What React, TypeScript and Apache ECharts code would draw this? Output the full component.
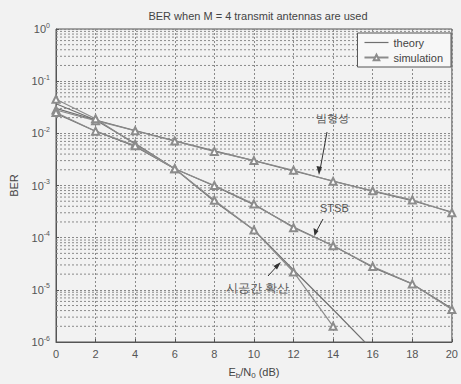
import React, { useEffect, useRef } from "react";
import * as echarts from "echarts";

const snr = [0, 2, 4, 6, 8, 10, 12, 14, 16, 18, 20];

const bfTheory = [0.03, 0.018, 0.0113, 0.0072, 0.0046, 0.003, 0.0019, 0.00122, 0.00078, 0.00051, 0.00031];
const bfSim = [0.028, 0.0175, 0.0112, 0.0071, 0.0045, 0.003, 0.00196, 0.0012, 0.00079, 0.00053, 0.0003];

const stbcTheory = [0.037, 0.018, 0.0064, 0.0021, 0.00098, 0.00043, 0.00016, 0.00007, 0.000027, 0.000013, 0.0000044];
const stbcSim = [0.045, 0.019, 0.0062, 0.0021, 0.001, 0.00044, 0.000155, 0.00007, 0.000028, 0.000013, 0.0000042];

const stsTheory = [0.024, 0.011, 0.0056, 0.0021, 0.0005, 0.00014, 0.000024, 0.0000042, 0.0000007];
const stsSim = [0.025, 0.011, 0.0058, 0.0021, 0.00052, 0.00014, 0.000022, 0.000002];

const decades = [-6, -5, -4, -3, -2, -1];
const minorMultipliers = [2, 3, 4, 5, 6, 7, 8, 9];

const pair = (ys: number[]) => ys.map((y, i) => [snr[i], y]);

export default function App() {
  const ref = useRef<HTMLDivElement>(null);
  useEffect(() => {
    if (!ref.current) return;
    const chart = echarts.init(ref.current, null, { renderer: "svg" });
    const font = "Liberation Sans, Arial, sans-serif";
    const theoryColor = "#707070";
    const simColor = "#8c8c8c";
    const gridColor = "#8a8a8a";

    const minorSeries: any[] = [];
    decades.forEach((d) => {
      minorMultipliers.forEach((m) => {
        const v = m * Math.pow(10, d);
        minorSeries.push({
          type: "line",
          silent: true,
          data: [
            [snr[0], v],
            [snr[snr.length - 1], v],
          ],
          symbol: "none",
          lineStyle: { color: gridColor, type: [2, 2], width: 1 },
          emphasis: { disabled: true },
          tooltip: { show: false },
          z: 1,
        });
      });
    });

    const theory = (data: number[]) => ({
      name: "theory",
      type: "line",
      data: pair(data),
      showSymbol: false,
      symbol: "none",
      clip: true,
      lineStyle: { color: theoryColor, width: 1.2 },
      itemStyle: { color: theoryColor },
      z: 3,
    });
    const sim = (data: number[]) => ({
      name: "simulation",
      type: "line",
      data: pair(data),
      symbol: "emptyTriangle",
      symbolSize: 7,
      clip: true,
      lineStyle: { color: simColor, width: 1.2 },
      itemStyle: { color: simColor, borderColor: simColor, borderWidth: 1 },
      z: 4,
    });

    chart.setOption({
      animation: false,
      backgroundColor: "#f2f2f2",
      textStyle: { fontFamily: font },
      title: {
        text: "BER when M = 4 transmit antennas are used",
        left: 253,
        top: 5,
        textAlign: "center",
        textStyle: { fontSize: 11, fontWeight: "normal", color: "#444", fontFamily: font },
      },
      legend: {
        right: 10,
        top: 33,
        orient: "vertical",
        backgroundColor: "#f7f7f7",
        borderColor: "#555",
        borderWidth: 1,
        borderRadius: 0,
        padding: [4, 8, 4, 6],
        itemGap: 4,
        itemWidth: 24,
        itemHeight: 7,
        textStyle: { fontSize: 11, color: "#444", fontFamily: font },
        data: [
          {
            name: "theory",
            icon: "path://M0,0 L24,0 L24,1.2 L0,1.2 Z",
            itemStyle: { color: theoryColor },
          },
          { name: "simulation" },
        ],
      },
      grid: {
        left: 55,
        top: 29,
        right: 6,
        bottom: 38,
        show: true,
        borderColor: "#555",
        borderWidth: 1,
        backgroundColor: "#f2f2f2",
      },
      xAxis: {
        type: "value",
        min: 0,
        max: 20,
        interval: 2,
        name: "{n|E}{s|b}{n|/N}{s|0}{n| (dB)}",
        nameLocation: "middle",
        nameGap: 22,
        nameTextStyle: {
          rich: {
            n: { fontSize: 11, color: "#444", fontFamily: font },
            s: { fontSize: 8, color: "#444", padding: [7, 0, 0, 0], fontFamily: font },
          },
        },
        axisLine: { lineStyle: { color: "#555" } },
        axisTick: { inside: true, length: 3, lineStyle: { color: "#555" } },
        axisLabel: { fontSize: 11, color: "#555", margin: 6 },
        splitLine: { show: true, lineStyle: { color: gridColor, type: [2, 2], width: 1 } },
      },
      yAxis: {
        type: "log",
        logBase: 10,
        min: 1e-6,
        max: 1,
        name: "BER",
        nameLocation: "middle",
        nameGap: 37,
        nameTextStyle: { fontSize: 11, color: "#444" },
        axisLine: { lineStyle: { color: "#555" } },
        axisTick: { inside: true, length: 3, lineStyle: { color: "#555" } },
        axisLabel: {
          margin: 6,
          formatter: (v: number) => `{b|10}{e|${Math.round(Math.log10(v))}}`,
          rich: {
            b: { fontSize: 11, color: "#555", fontFamily: font },
            e: { fontSize: 7, color: "#555", padding: [0, 0, 8, 0], fontFamily: font },
          },
        },
        splitLine: { show: true, lineStyle: { color: gridColor, type: [2, 2], width: 1 } },
      },
      series: [
        ...minorSeries,
        theory(bfTheory),
        sim(bfSim),
        theory(stbcTheory),
        sim(stbcSim),
        theory(stsTheory),
        sim(stsSim),
      ],
      graphic: [
        {
          type: "text",
          left: 316,
          top: 112,
          style: { text: "빔형성", fontSize: 11, fill: "#555", font: "11px 'Noto Sans CJK KR'" },
          z: 10,
        },
        {
          type: "line",
          shape: { x1: 327, y1: 132, x2: 320, y2: 170 },
          style: { stroke: "#333", lineWidth: 1 },
          z: 10,
        },
        {
          type: "polygon",
          shape: { points: [[319, 175], [316.5, 166], [322, 167]] },
          style: { fill: "#333" },
          z: 10,
        },
        {
          type: "text",
          left: 320,
          top: 202,
          style: { text: "STSB", fontSize: 11, fill: "#555", font: "11px 'Liberation Sans'" },
          z: 10,
        },
        {
          type: "line",
          shape: { x1: 323, y1: 219, x2: 316, y2: 232 },
          style: { stroke: "#333", lineWidth: 1 },
          z: 10,
        },
        {
          type: "polygon",
          shape: { points: [[314.5, 236], [313.5, 228], [318.5, 231]] },
          style: { fill: "#333" },
          z: 10,
        },
        {
          type: "text",
          left: 226,
          top: 282,
          style: { text: "시공간 확산", fontSize: 12, fill: "#555", font: "12px 'Noto Sans CJK KR'" },
          z: 10,
        },
        {
          type: "line",
          shape: { x1: 268, y1: 276, x2: 278, y2: 265 },
          style: { stroke: "#333", lineWidth: 1 },
          z: 10,
        },
        {
          type: "polygon",
          shape: { points: [[281, 262], [273.5, 266], [277, 269.5]] },
          style: { fill: "#333" },
          z: 10,
        },
      ],
    });
    return () => chart.dispose();
  }, []);
  return (
    <div
      ref={ref}
      style={{ position: "fixed", left: 0, top: 0, width: 461, height: 384 }}
    />
  );
}
